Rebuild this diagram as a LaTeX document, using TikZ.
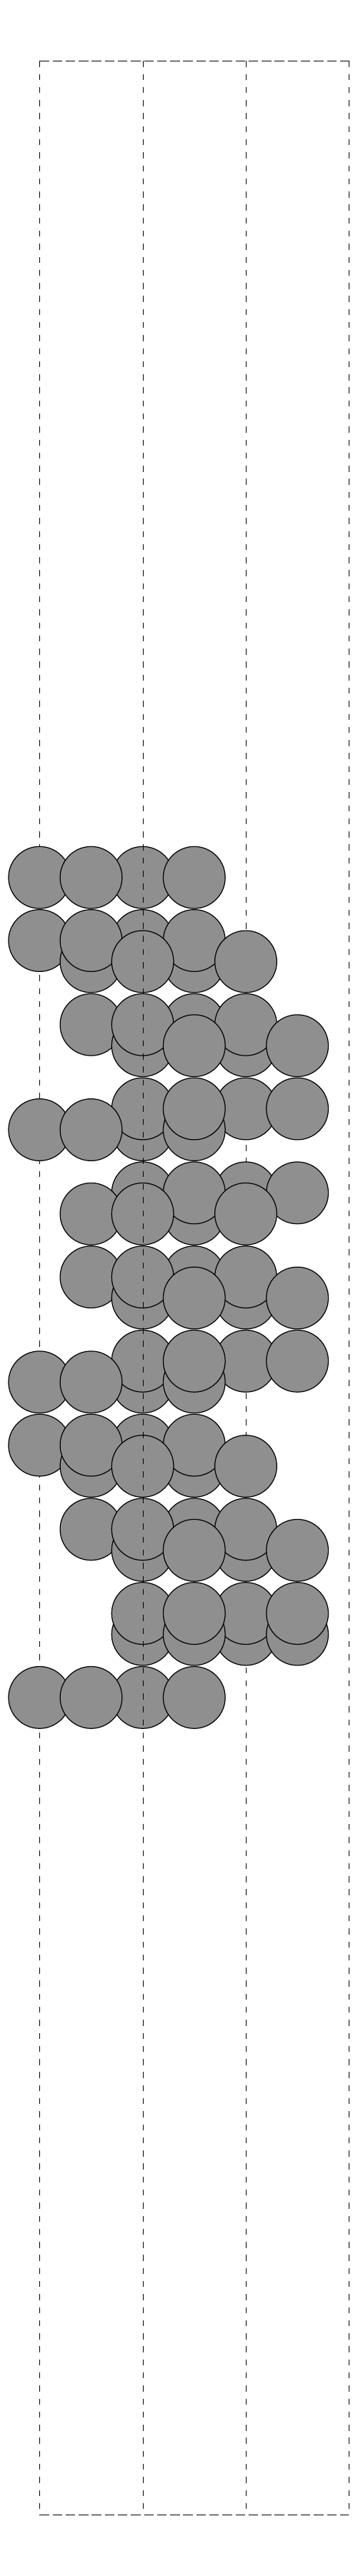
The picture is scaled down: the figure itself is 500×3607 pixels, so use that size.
\documentclass[tikz,border=0pt]{standalone}
\usepackage{xcolor}
\usepackage{tikz}

\definecolor{atomgray}{gray}{0.56}

\begin{document}
\begin{tikzpicture}[
    x=0.01cm, y=-0.01cm,
    atom/.style={circle, draw=black, fill=atomgray, line width=0.35pt, inner sep=0pt, minimum size=0.8667cm},
    cellv/.style={line width=0.3pt, dash pattern=on 2.4pt off 2.8pt},
    cellh/.style={line width=0.3pt, dash pattern=on 3.8pt off 1.4pt}
]

\useasboundingbox (0,0) rectangle (500,3607);

% Cell corners
\coordinate (TL) at (55.3,85.3);
\coordinate (TR) at (488.3,85.3);
\coordinate (BL) at (55.3,3521.3);
\coordinate (BR) at (488.3,3521.3);
\coordinate (T1) at (200.3,85.3);
\coordinate (B1) at (200.3,3521.3);
\coordinate (T2) at (344.3,85.3);
\coordinate (B2) at (344.3,3521.3);

% Cell outline (behind the atoms)
\draw[cellh] (TL) -- (TR);
\draw[cellh] (BL) -- (BR);
\draw[cellv] (TL) -- (BL);
\draw[cellv] (TR) -- (BR);
\draw[cellv] (T2) -- (B2);

% Atoms: column/row, back ones first
% Row 0
\foreach \i/\k in {0/0, 2/0, 1/0, 3/0}
    \node[atom] (a\i-\k) at ({55.3+72.17*\i},{1228.7+29.44*\k}) {};

% Rows 3 and 4
\foreach \i/\k in {0/3, 2/3, 1/4, 3/4, 1/3, 3/3, 2/4, 4/4}
    \node[atom] (a\i-\k) at ({55.3+72.17*\i},{1228.7+29.44*\k}) {};

% Rows 7 and 8
\foreach \i/\k in {1/7, 3/7, 2/8, 4/8, 2/7, 4/7, 3/8, 5/8}
    \node[atom] (a\i-\k) at ({55.3+72.17*\i},{1228.7+29.44*\k}) {};

% Rows 11 and 12
\foreach \i/\k in {0/12, 2/12, 2/11, 4/11, 1/12, 3/12, 3/11, 5/11}
    \node[atom] (a\i-\k) at ({55.3+72.17*\i},{1228.7+29.44*\k}) {};

% Rows 15 and 16
\foreach \i/\k in {2/15, 4/15, 1/16, 3/16, 3/15, 5/15, 2/16, 4/16}
    \node[atom] (a\i-\k) at ({55.3+72.17*\i},{1228.7+29.44*\k}) {};

% Rows 19 and 20
\foreach \i/\k in {1/19, 3/19, 2/20, 4/20, 2/19, 4/19, 3/20, 5/20}
    \node[atom] (a\i-\k) at ({55.3+72.17*\i},{1228.7+29.44*\k}) {};

% Rows 23 and 24
\foreach \i/\k in {0/24, 2/24, 2/23, 4/23, 1/24, 3/24, 3/23, 5/23}
    \node[atom] (a\i-\k) at ({55.3+72.17*\i},{1228.7+29.44*\k}) {};

% Rows 27 and 28
\foreach \i/\k in {0/27, 2/27, 1/28, 3/28, 1/27, 3/27, 2/28, 4/28}
    \node[atom] (a\i-\k) at ({55.3+72.17*\i},{1228.7+29.44*\k}) {};

% Rows 31 and 32
\foreach \i/\k in {1/31, 3/31, 2/32, 4/32, 2/31, 4/31, 3/32, 5/32}
    \node[atom] (a\i-\k) at ({55.3+72.17*\i},{1228.7+29.44*\k}) {};

% Rows 35 and 36
\foreach \i/\k in {2/36, 4/36, 2/35, 4/35, 3/36, 5/36, 3/35, 5/35}
    \node[atom] (a\i-\k) at ({55.3+72.17*\i},{1228.7+29.44*\k}) {};

% Row 39
\foreach \i/\k in {0/39, 2/39, 1/39, 3/39}
    \node[atom] (a\i-\k) at ({55.3+72.17*\i},{1228.7+29.44*\k}) {};

% Front cell line (over the atoms)
\draw[cellv] (T1) -- (B1);

\end{tikzpicture}
\end{document}
